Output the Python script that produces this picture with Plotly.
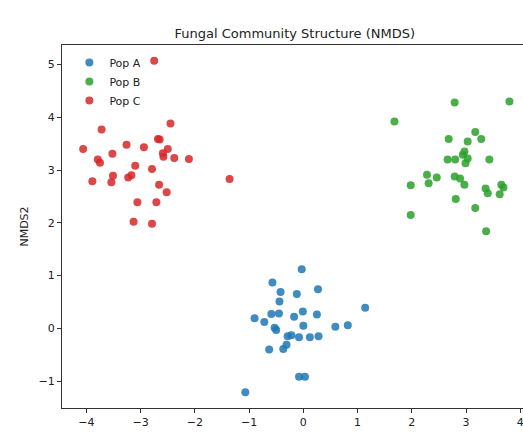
import plotly.graph_objects as go

# Population A (blue)
pop_a_x = [-0.03, -0.57, -0.42, -0.12, 0.27, -0.44, 1.14, -0.90, -0.72, -0.59,
           -0.45, -0.17, -0.01, 0.25, -0.53, -0.50, 0.00, 0.59, 0.82, -0.29,
           -0.22, -0.08, 0.12, 0.28, -0.31, -0.37, -0.63, -0.08, 0.03, -1.07]
pop_a_y = [1.12, 0.87, 0.69, 0.65, 0.74, 0.51, 0.39, 0.19, 0.12, 0.27,
           0.28, 0.22, 0.32, 0.26, 0.01, -0.03, 0.05, 0.03, 0.06, -0.15,
           -0.13, -0.17, -0.17, -0.15, -0.31, -0.39, -0.40, -0.92, -0.92, -1.21]

# Population B (green)
pop_b_x = [2.79, 3.80, 1.68, 3.17, 3.28, 2.68, 3.03, 2.66, 2.80, 2.94,
           3.03, 2.99, 3.43, 2.28, 2.46, 2.31, 2.79, 2.89, 2.97, 1.98,
           3.36, 3.40, 3.65, 3.69, 3.62, 2.81, 3.17, 1.98, 3.37, 2.97]
pop_b_y = [4.28, 4.30, 3.92, 3.72, 3.59, 3.59, 3.54, 3.20, 3.20, 3.29,
           3.22, 3.13, 3.20, 2.91, 2.86, 2.75, 2.88, 2.84, 2.72, 2.71,
           2.65, 2.56, 2.72, 2.67, 2.54, 2.45, 2.28, 2.15, 1.84, 3.35]

# Population C (red)
pop_c_x = [-2.75, -3.72, -2.45, -2.68, -2.65, -4.06, -3.26, -2.94, -2.50, -2.59,
           -2.58, -3.52, -3.79, -3.75, -2.38, -2.11, -3.10, -2.79, -3.89, -3.51,
           -3.54, -3.23, -3.17, -2.66, -2.52, -1.36, -3.06, -2.71, -3.13, -2.79]
pop_c_y = [5.07, 3.77, 3.88, 3.59, 3.58, 3.40, 3.48, 3.43, 3.40, 3.32,
           3.25, 3.31, 3.20, 3.14, 3.23, 3.21, 3.08, 3.02, 2.79, 2.89,
           2.77, 2.86, 2.90, 2.72, 2.58, 2.83, 2.39, 2.39, 2.02, 1.98]

series = [
    ("Pop A", pop_a_x, pop_a_y, "#1f77b4"),
    ("Pop B", pop_b_x, pop_b_y, "#2ca02c"),
    ("Pop C", pop_c_x, pop_c_y, "#d62728"),
]

x_ticks = [-4, -3, -2, -1, 0, 1, 2, 3, 4]
y_ticks = [-1, 0, 1, 2, 3, 4, 5]

fig = go.Figure()
for name, xs, ys, color in series:
    fig.add_trace(go.Scatter(
        x=xs, y=ys, mode="markers", name=name,
        marker=dict(color=color, size=8, opacity=0.85, line=dict(width=0)),
    ))

font_family = "DejaVu Sans, sans-serif"
axis_color = "#333333"

fig.update_layout(
    width=523, height=434,
    margin=dict(l=62, r=0, t=45, b=26),
    paper_bgcolor="white", plot_bgcolor="white",
    font=dict(family=font_family, size=11, color="#222222"),
    title=dict(text="Fungal Community Structure (NMDS)",
               x=0.505, xref="paper", xanchor="center",
               y=1 - 33 / 434, yref="container", yanchor="middle",
               font=dict(size=13, color="#222222")),
    legend=dict(x=0.016, y=0.992, xanchor="left", yanchor="top",
                bgcolor="rgba(255,255,255,0)", borderwidth=0,
                font=dict(size=11, color="#222222"),
                itemsizing="trace", tracegroupgap=0),
    showlegend=True,
)

fig.update_xaxes(
    range=[-4.45, 4.05], tickvals=x_ticks,
    ticktext=[("\u2212" + str(abs(t))) if t < 0 else str(t) for t in x_ticks],
    ticklabeloverflow="allow",
    showgrid=False, zeroline=False,
    showline=True, linecolor=axis_color, linewidth=1, mirror=True,
    ticks="outside", ticklen=4, tickcolor=axis_color, tickwidth=1,
    tickfont=dict(size=11, color="#222222"),
)
fig.update_yaxes(
    range=[-1.51, 5.37], tickvals=y_ticks,
    ticktext=[("\u2212" + str(abs(t))) if t < 0 else str(t) for t in y_ticks],
    showgrid=False, zeroline=False,
    showline=True, linecolor=axis_color, linewidth=1,
    ticks="outside", ticklen=4, tickcolor=axis_color, tickwidth=1,
    tickfont=dict(size=11, color="#222222"),
    title=dict(text="NMDS2", font=dict(size=11, color="#222222"), standoff=7),
)

fig.write_html("out.html")
